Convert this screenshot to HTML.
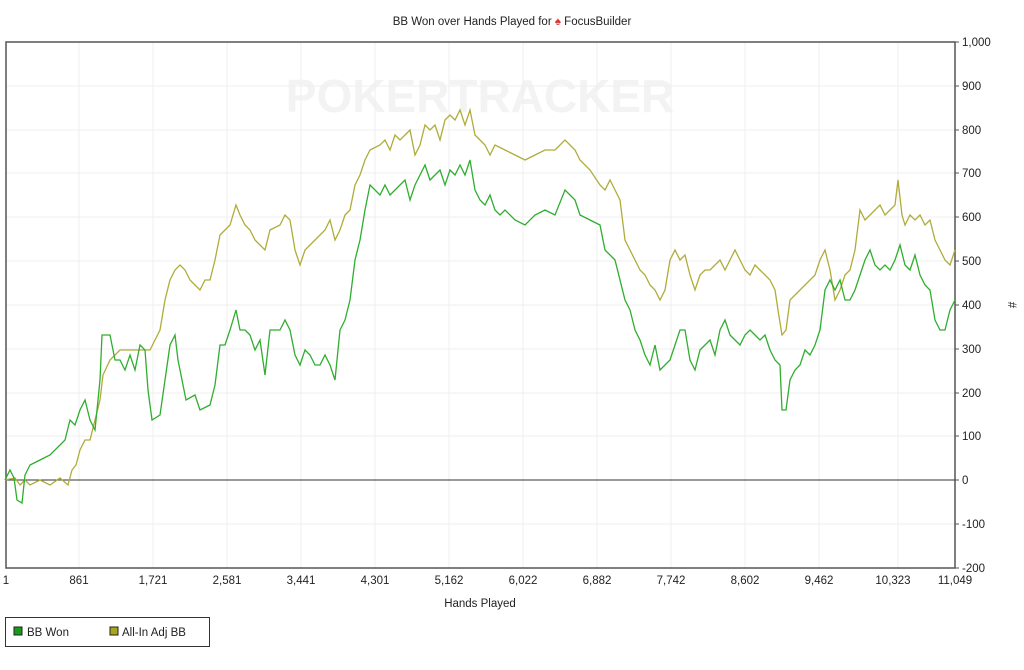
<!DOCTYPE html>
<html><head><meta charset="utf-8"><style>
body{margin:0;background:#fff;font-family:"Liberation Sans",sans-serif;}
svg text{font-family:"Liberation Sans",sans-serif;font-size:11.5px;fill:#222;}
</style></head><body>
<svg width="1024" height="665" viewBox="0 0 1024 665" xmlns="http://www.w3.org/2000/svg">
<text x="512" y="25" text-anchor="middle">BB Won over Hands Played for <tspan fill="#d33">♠</tspan> FocusBuilder</text>
<text x="480" y="112" text-anchor="middle" style="font-size:46px;font-weight:bold;fill:#f3f3f3">POKERTRACKER</text>
<g stroke="#efefef" stroke-width="1">
<line x1="6" y1="86" x2="955" y2="86"/><line x1="6" y1="130" x2="955" y2="130"/><line x1="6" y1="173" x2="955" y2="173"/><line x1="6" y1="217" x2="955" y2="217"/><line x1="6" y1="261" x2="955" y2="261"/><line x1="6" y1="305" x2="955" y2="305"/><line x1="6" y1="349" x2="955" y2="349"/><line x1="6" y1="393" x2="955" y2="393"/><line x1="6" y1="436" x2="955" y2="436"/><line x1="6" y1="524" x2="955" y2="524"/>
<line x1="79" y1="42" x2="79" y2="568"/><line x1="153" y1="42" x2="153" y2="568"/><line x1="227" y1="42" x2="227" y2="568"/><line x1="301" y1="42" x2="301" y2="568"/><line x1="375" y1="42" x2="375" y2="568"/><line x1="449" y1="42" x2="449" y2="568"/><line x1="523" y1="42" x2="523" y2="568"/><line x1="597" y1="42" x2="597" y2="568"/><line x1="671" y1="42" x2="671" y2="568"/><line x1="745" y1="42" x2="745" y2="568"/><line x1="819" y1="42" x2="819" y2="568"/><line x1="898" y1="42" x2="898" y2="568"/>
</g>
<rect x="6" y="42" width="949" height="526" fill="none" stroke="#555" stroke-width="1.5"/>
<line x1="6" y1="480" x2="955" y2="480" stroke="#333" stroke-width="1"/>
<polyline fill="none" stroke="#b0ac3a" stroke-width="1.3" points="5,480 15,478 20,485 25,480 30,485 40,480 50,485 60,478 68,485 72,470 76,465 80,450 85,440 90,440 95,420 100,400 103,375 110,360 120,350 130,350 140,350 150,350 155,340 160,330 165,300 170,280 175,270 180,265 185,270 190,280 195,285 200,290 205,280 210,280 215,260 220,235 225,230 230,225 236,205 240,215 245,225 250,230 255,240 260,245 265,250 270,230 280,225 285,215 290,220 295,250 300,265 305,250 310,245 315,240 320,235 325,230 330,220 335,240 340,230 345,215 350,210 355,185 360,175 365,160 370,150 380,145 385,140 390,150 395,135 400,140 410,130 415,155 420,145 425,125 430,130 435,125 440,140 445,120 450,115 455,120 460,110 465,125 470,110 475,135 480,140 485,145 490,155 495,145 505,150 515,155 525,160 535,155 545,150 555,150 565,140 570,145 575,150 580,160 590,170 600,185 605,190 610,180 615,190 620,200 625,240 630,250 635,260 640,270 645,275 650,285 655,290 660,300 665,290 670,260 675,250 680,260 685,255 690,275 695,290 700,275 705,270 710,270 715,265 720,260 725,270 730,260 735,250 740,260 745,270 750,275 755,265 760,270 765,275 770,280 775,290 778,310 782,335 786,330 790,300 795,295 800,290 805,285 810,280 815,275 820,260 825,250 830,270 835,300 840,290 845,275 850,270 855,250 860,210 865,220 870,215 875,210 880,205 885,215 890,210 895,205 898,180 902,215 905,225 910,215 915,220 920,215 925,225 930,220 935,240 940,250 945,260 950,265 955,250"/>
<polyline fill="none" stroke="#2fae2f" stroke-width="1.3" points="5,480 10,470 14,478 17,500 22,503 25,475 30,465 40,460 50,455 60,445 65,440 70,420 75,425 80,410 85,400 90,420 95,430 100,380 102,335 110,335 115,360 120,360 125,370 130,355 135,370 140,345 145,350 148,390 152,420 160,415 170,345 175,335 178,360 182,380 186,400 195,395 200,410 210,405 215,385 220,345 225,345 230,330 236,310 240,330 245,330 250,335 255,350 260,340 265,375 270,330 280,330 285,320 290,330 295,355 300,365 305,350 310,355 315,365 320,365 325,355 330,365 335,380 340,330 345,320 350,300 355,260 360,240 365,210 370,185 375,190 380,195 385,185 390,195 395,190 400,185 405,180 410,200 415,185 420,175 425,165 430,180 435,175 440,170 445,185 450,170 455,175 460,165 465,175 470,160 475,190 480,200 485,205 490,195 495,210 500,215 505,210 515,220 525,225 535,215 545,210 555,215 565,190 570,195 575,200 580,215 590,220 600,225 605,250 615,260 625,300 630,310 635,330 640,340 645,355 650,365 655,345 660,370 665,365 670,360 675,345 680,330 685,330 690,360 695,370 700,350 705,345 710,340 715,355 720,330 725,320 730,335 735,340 740,345 745,335 750,330 755,335 760,340 765,335 770,350 775,360 780,365 782,410 786,410 790,380 795,370 800,365 805,350 810,355 815,345 820,330 825,290 830,280 835,290 840,280 845,300 850,300 855,290 860,275 865,260 870,250 875,265 880,270 885,265 890,270 895,260 900,245 905,265 910,270 915,255 920,275 925,285 930,290 935,320 940,330 945,330 950,310 955,300"/>
<g stroke="#555"><line x1="955" y1="42" x2="959" y2="42"/><line x1="955" y1="86" x2="959" y2="86"/><line x1="955" y1="130" x2="959" y2="130"/><line x1="955" y1="173" x2="959" y2="173"/><line x1="955" y1="217" x2="959" y2="217"/><line x1="955" y1="261" x2="959" y2="261"/><line x1="955" y1="305" x2="959" y2="305"/><line x1="955" y1="349" x2="959" y2="349"/><line x1="955" y1="393" x2="959" y2="393"/><line x1="955" y1="436" x2="959" y2="436"/><line x1="955" y1="480" x2="959" y2="480"/><line x1="955" y1="524" x2="959" y2="524"/><line x1="955" y1="568" x2="959" y2="568"/></g>
<g>
<text x="962" y="46">1,000</text><text x="962" y="90">900</text><text x="962" y="134">800</text><text x="962" y="177">700</text><text x="962" y="221">600</text><text x="962" y="265">500</text><text x="962" y="309">400</text><text x="962" y="353">300</text><text x="962" y="397">200</text><text x="962" y="440">100</text><text x="962" y="484">0</text><text x="962" y="528">-100</text><text x="962" y="572">-200</text>
</g>
<text x="1008" y="305" transform="rotate(90 1008 305)" text-anchor="middle">#</text>
<g text-anchor="middle">
<text x="6" y="584">1</text><text x="79" y="584">861</text><text x="153" y="584">1,721</text><text x="227" y="584">2,581</text><text x="301" y="584">3,441</text><text x="375" y="584">4,301</text><text x="449" y="584">5,162</text><text x="523" y="584">6,022</text><text x="597" y="584">6,882</text><text x="671" y="584">7,742</text><text x="745" y="584">8,602</text><text x="819" y="584">9,462</text><text x="893" y="584">10,323</text><text x="955" y="584">11,049</text>
</g>
<text x="480" y="607" text-anchor="middle">Hands Played</text>
<rect x="5.5" y="617.5" width="204" height="29" fill="#fff" stroke="#333"/>
<rect x="14" y="627" width="8" height="8" fill="#1a9a1a" stroke="#222"/>
<text x="27" y="636">BB Won</text>
<rect x="110" y="627" width="8" height="8" fill="#a9a51c" stroke="#222"/>
<text x="122" y="636">All-In Adj BB</text>
</svg>
</body></html>
